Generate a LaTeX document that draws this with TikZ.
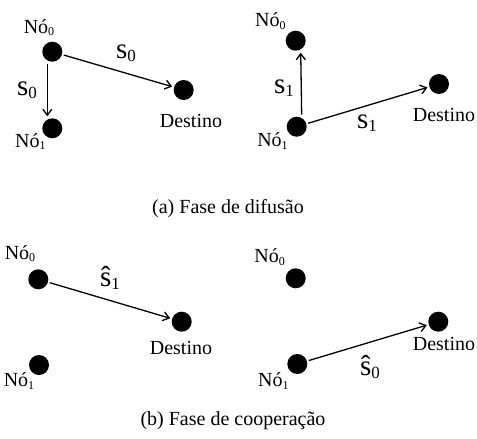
\documentclass[tikz,border=0pt]{standalone}
\usepackage{fontspec}
\setmainfont{Liberation Serif}
\usetikzlibrary{positioning,arrows.meta}
\newcommand{\nolbl}[1]{N\'o\raisebox{-2.5pt}{\fontsize{12}{12}\selectfont #1}}
\newcommand{\sig}[1]{s\raisebox{-3pt}{\fontsize{17}{17}\selectfont #1}}
\newcommand{\sighat}[1]{\^{s}\raisebox{-3pt}{\fontsize{17}{17}\selectfont #1}}

\begin{document}
\begin{tikzpicture}[
  x=1pt, y=-1pt,
  dot/.style={circle, fill=black, minimum size=20pt, inner sep=0pt, outer sep=2pt},
  nolab/.style={font=\fontsize{20}{20}\selectfont, anchor=base, inner sep=0pt},
  dstlab/.style={font=\fontsize{20}{20}\selectfont, anchor=base, inner sep=0pt},
  siglab/.style={font=\fontsize{29}{29}\selectfont, anchor=base, inner sep=0pt},
  caption/.style={font=\fontsize{20}{20}\selectfont, anchor=base, inner sep=0pt},
  flow/.style={-{Straight Barb[length=6pt,width=9pt,line width=1.3pt]}, line width=1.3pt},
]
\useasboundingbox (0,0) rectangle (477,439);

% ---- (a) esquerda ----
\node[dot] (an0) at (52.3,51.7)  {};
\node[dot] (an1) at (52.3,128.3) {};
\node[dot] (ad0) at (183.7,90)   {};
\node[nolab]  (an0l) at (39,33.3)   {\nolbl{0}};
\node[nolab]  (an1l) at (30.4,147.3) {\nolbl{1}};
\node[dstlab] (ad0l) at (191,127)   {Destino};
\draw[flow] (an0) -- (ad0);
\draw[flow] ([xshift=-5pt]an0.south) -- ([xshift=-5pt]an1.north);
\node[siglab] (as0a) at (126,58.3) {\sig{0}};
\node[siglab] (as0b) at (27,95)    {\sig{0}};

% ---- (a) direita ----
\node[dot] (bn0) at (295.7,40.7)  {};
\node[dot] (bn1) at (296.7,126.7) {};
\node[dot] (bd0) at (439,84)      {};
\node[nolab]  (bn0l) at (270.3,26.7)  {\nolbl{0}};
\node[nolab]  (bn1l) at (272.5,146.7) {\nolbl{1}};
\node[dstlab] (bd0l) at (444,121.7)   {Destino};
\draw[flow] ([xshift=5pt]bn1.north) -- ([xshift=5pt]bn0.south);
\draw[flow] (bn1) -- (bd0);
\node[siglab] (bs1a) at (284,93.3)  {\sig{1}};
\node[siglab] (bs1b) at (367,128.3) {\sig{1}};

\node[caption] (capa) at (228,213.3) {(a) Fase de difusão};

% ---- (b) esquerda ----
\node[dot] (cn0) at (38.3,279.3) {};
\node[dot] (cn1) at (39,365)     {};
\node[dot] (cd0) at (181.7,321.7) {};
\node[nolab]  (cn0l) at (20,259.3)  {\nolbl{0}};
\node[nolab]  (cn1l) at (19,386.7)  {\nolbl{1}};
\node[dstlab] (cd0l) at (181,354.3) {Destino};
\draw[flow] (cn0) -- (cd0);
\node[siglab] (cs1) at (110,286.7) {\sighat{1}};

% ---- (b) direita ----
\node[dot] (dn0) at (295.7,278.3) {};
\node[dot] (dn1) at (297.3,364)   {};
\node[dot] (dd0) at (438.3,321.7) {};
\node[nolab]  (dn0l) at (269.7,262.7) {\nolbl{0}};
\node[nolab]  (dn1l) at (273.3,386.7) {\nolbl{1}};
\node[dstlab] (dd0l) at (444,350)     {Destino};
\draw[flow] (dn1) -- (dd0);
\node[siglab] (ds0) at (370,375) {\sighat{0}};

\node[caption] (capb) at (233,425) {(b) Fase de cooperação};

\end{tikzpicture}
\end{document}
